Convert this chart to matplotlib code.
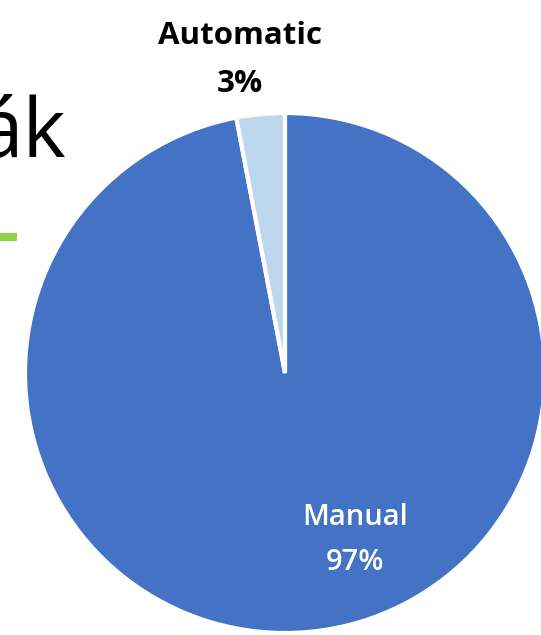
import matplotlib
matplotlib.use("Agg")
import matplotlib.pyplot as plt

# Transmission share
categories = ["Manual", "Automatic"]
shares = [97, 3]
colors = ["#4472C4", "#BDD7EE"]
label_colors = ["white", "black"]

W, H = 541, 635
fig = plt.figure(figsize=(W / 100, H / 100), dpi=100)
ax = fig.add_axes([0, 0, 1, 1])

cx, cy, r = 285, 262, 260
wedges, _ = ax.pie(
    shares, colors=colors, startangle=90, counterclock=False,
    center=(cx, cy), radius=r, frame=True,
    wedgeprops=dict(edgecolor="white", linewidth=3),
)
ax.set_xlim(0, W)
ax.set_ylim(0, H)
ax.set_aspect("equal")
ax.set_axis_off()

# Data labels
label_pos = [(355, 95), (240, 575)]
label_weight = ["semibold", "bold"]
label_size = [21, 22.5]
for cat, val, (lx, ly), col, wt, fs in zip(categories, shares, label_pos,
                                           label_colors, label_weight, label_size):
    ax.text(lx, ly, f"{cat}\n{val}%", ha="center", va="center", color=col,
            fontsize=fs, fontweight=wt, family="Open Sans", linespacing=1.75)

# Slide title fragment and accent bar
ax.text(66, 478, "ák", ha="right", va="baseline", fontsize=59,
        family="Open Sans", color="black")
ax.plot([0, 17], [398, 398], color="#92D050", linewidth=6, solid_capstyle="butt")

fig.savefig("out.png", dpi=100)
